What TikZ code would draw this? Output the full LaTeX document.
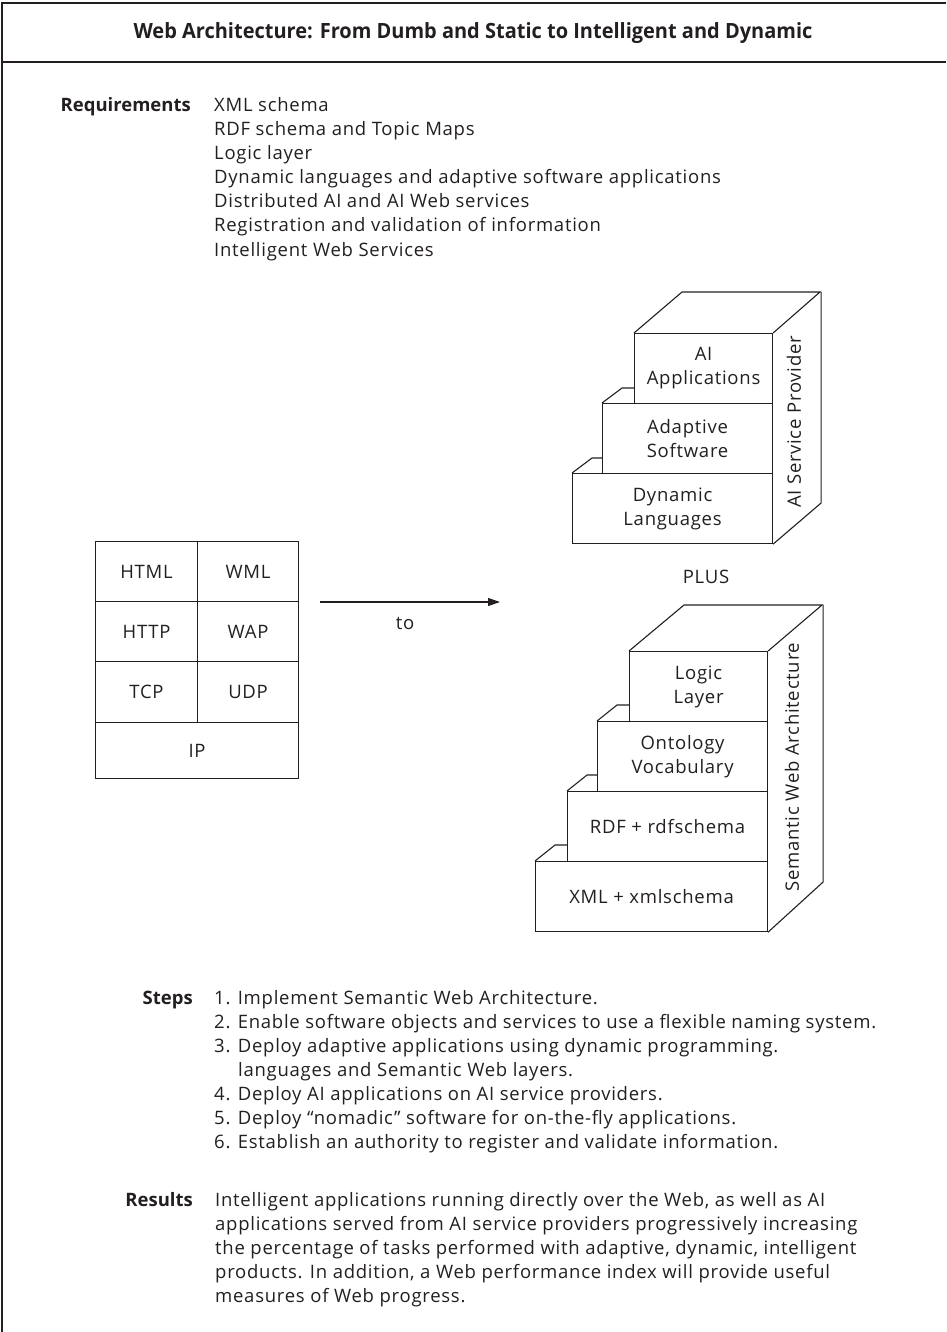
\documentclass[tikz,border=0pt]{standalone}
\usepackage{fontspec}
\setmainfont{Open Sans}
\newfontfamily\bodyfont{Open Sans}[LetterSpace=4]
\usetikzlibrary{arrows.meta}
\definecolor{ink}{HTML}{231F20}
\begin{document}
\begin{tikzpicture}[x=1pt,y=-1pt,
  every node/.style={text=ink, inner sep=0pt},
  body/.style={font=\bodyfont\fontsize{18.5}{24}\selectfont},
  head/.style={font=\fontsize{18.5}{24}\selectfont\bfseries},
  rule/.style={draw=ink, line width=1.2pt},
  edge3d/.style={draw=ink, line width=1.1pt, line join=miter},
  layer/.style={draw=ink, line width=1.1pt, anchor=north west, body, align=center},
  cell/.style={draw=ink, line width=1.1pt, anchor=north west, body, align=center}]
\useasboundingbox (0,0) rectangle (946,1332);

% page frame and title band
\coordinate (frameTL) at (2,3);
\coordinate (frameTR) at (946,3);
\coordinate (frameBL) at (2,1332);
\coordinate (sepL) at (2,62);
\coordinate (sepR) at (946,62);
\draw[rule] (frameTR) -- (frameTL) -- (frameBL);
\draw[rule] (sepL) -- (sepR);
\node[font=\fontsize{21}{24}\selectfont\bfseries, anchor=base] (title) at (473,39)
  {\scalebox{0.952}[1]{Web Architecture: From Dumb and Static to Intelligent and Dynamic}};

% requirements
\node[head, anchor=base east] (reqhead) at (191,112) {Requirements};
\foreach \t [count=\i] in {XML schema, RDF schema and Topic Maps, Logic layer,
  Dynamic languages and adaptive software applications,
  Distributed AI and AI Web services,
  Registration and validation of information, Intelligent Web Services}
  \node[body, anchor=base west] (req\i) at (214,{112+24*(\i-1)}) {\t};

% protocol table
\node[cell, minimum width=102pt, minimum height=60pt] (html) at (95,541) {HTML};
\node[cell, minimum width=101pt, minimum height=60pt] (wml)  at (197,541) {WML};
\node[cell, minimum width=102pt, minimum height=60pt] (http) at (95,601) {HTTP};
\node[cell, minimum width=101pt, minimum height=60pt] (wap)  at (197,601) {WAP};
\node[cell, minimum width=102pt, minimum height=61pt] (tcp)  at (95,661) {TCP};
\node[cell, minimum width=101pt, minimum height=61pt] (udp)  at (197,661) {UDP};
\node[cell, minimum width=203pt, minimum height=56pt] (ip)   at (95,722) {IP};

% transition arrow
\coordinate (arrS) at (320,602);
\coordinate (arrE) at (500,602);
\draw[draw=ink, line width=1.1pt, -{Stealth[length=12pt,width=8pt,inset=0pt]}] (arrS) -- (arrE);
\node[body, anchor=base] (to) at (405,629) {to};

% AI service provider stack
\node[layer, minimum width=138pt, minimum height=70pt] (aiapp) at (634,333) {AI\\Applications};
\node[layer, minimum width=170pt, minimum height=70pt] (adapt) at (602,403) {Adaptive\\Software};
\node[layer, minimum width=200pt, minimum height=70pt] (dyn)   at (572,473) {Dynamic\\Languages};
\draw[edge3d] (aiapp.north west) -- ++(48,-41) -- ++(138,0) -- (aiapp.north east);
\draw[edge3d] (aiapp.north east) ++(48,-41) -- ++(0,211) -- (dyn.south east);
\draw[edge3d] (adapt.north west) -- ++(20,-15) -- (aiapp.west |- 0,388);
\draw[edge3d] (dyn.north west) -- ++(20,-15) -- (adapt.west |- 0,458);
\node[body, rotate=90] (aisp) at (794,422) {AI Service Provider};

\node[body, anchor=base] (plus) at (706,583) {PLUS};

% semantic web architecture stack
\node[layer, minimum width=138pt, minimum height=70pt] (logic) at (629,651) {Logic\\Layer};
\node[layer, minimum width=170pt, minimum height=70pt] (onto)  at (597,721) {Ontology\\Vocabulary};
\node[layer, minimum width=200pt, minimum height=70pt] (rdf)   at (567,791) {RDF + rdfschema};
\node[layer, minimum width=232pt, minimum height=70pt] (xml)   at (535,861) {XML + xmlschema};
\draw[edge3d] (logic.north west) -- ++(55,-46) -- ++(138,0) -- (logic.north east);
\draw[edge3d] (logic.north east) ++(55,-46) -- ++(0,277) -- (xml.south east);
\draw[edge3d] (onto.north west) -- ++(20,-16) -- (logic.west |- 0,705);
\draw[edge3d] (rdf.north west) -- ++(20,-16) -- (onto.west |- 0,775);
\draw[edge3d] (xml.north west) -- ++(20,-16) -- (rdf.west |- 0,845);
\node[body, rotate=90] (swa) at (792,767) {Semantic Web Architecture};

% steps
\node[head, anchor=base east] (stephead) at (193,1004) {Steps};
\node[body, anchor=base west] (step1) at (214,1004) {1. Implement Semantic Web Architecture.};
\node[body, anchor=base west] (step2) at (214,1028) {2. Enable software objects and services to use a flexible naming system.};
\node[body, anchor=base west] (step3) at (214,1052) {3. Deploy adaptive applications using dynamic programming.};
\node[body, anchor=base west] (step3b) at (238,1076) {languages and Semantic Web layers.};
\node[body, anchor=base west] (step4) at (214,1100) {4. Deploy AI applications on AI service providers.};
\node[body, anchor=base west] (step5) at (214,1124) {5. Deploy “nomadic” software for on-the-fly applications.};
\node[body, anchor=base west] (step6) at (214,1148) {6. Establish an authority to register and validate information.};

% results
\node[head, anchor=base east] (reshead) at (193,1206) {Results};
\foreach \t [count=\i] in {{Intelligent applications running directly over the Web, as well as AI},
  {applications served from AI service providers progressively increasing},
  {the percentage of tasks performed with adaptive, dynamic, intelligent},
  {products. In addition, a Web performance index will provide useful},
  {measures of Web progress.}}
  \node[body, anchor=base west] (res\i) at (215,{1206+24*(\i-1)}) {\t};
\end{tikzpicture}
\end{document}
